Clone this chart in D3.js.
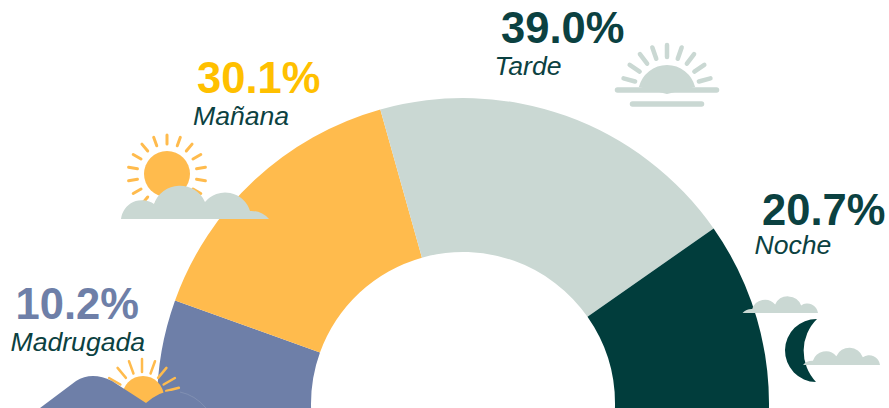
<!DOCTYPE html>
<html><head><meta charset="utf-8">
<script src="https://cdn.jsdelivr.net/npm/d3@7"></script>
<style>html,body{margin:0;padding:0;background:#fff}svg{display:block}</style>
</head><body>
<svg id="c" width="889" height="408"></svg>
<script>
const categories = ["Madrugada", "Mañana", "Tarde", "Noche"];
const shares = [10.2, 30.1, 39.0, 20.7];
const shareLabels = ["10.2%", "30.1%", "39.0%", "20.7%"];
const sliceColors = ["#6e7fa8", "#ffbb4d", "#cad8d3", "#013d3c"];
const valueColors = ["#6e7fa8", "#ffc000", "#0b4141", "#0b4141"];
const valueAnchors = [[15.5, 319], [197, 93], [501, 42.5], [762, 225]];
const labelAnchors = [[10.5, 351], [193, 125], [494.5, 74.5], [754.5, 254]];

const FONT = "'Liberation Sans', Arial, Helvetica, sans-serif";
const svg = d3.select("#c");
const deg = Math.PI / 180;
const cx = 463, cy = 404;

// Ring
const pie = d3.pie().sort(null).startAngle(-88.7 * deg).endAngle(92.5 * deg);
const arc = d3.arc().innerRadius(152).outerRadius(306)
  .startAngle(d => d.index === 0 ? -92 * deg : d.startAngle)
  .endAngle(d => d.endAngle);
svg.append("g").attr("transform", `translate(${cx},${cy})`)
  .selectAll("path").data(pie(shares)).join("path")
  .attr("d", arc).attr("fill", (d, i) => sliceColors[i]);

// Icons
function rays(x, y, r0, r1, angles, color, width) {
  svg.append("g").selectAll("line").data(angles).join("line")
    .attr("x1", a => x + r0 * Math.sin(a * deg)).attr("y1", a => y - r0 * Math.cos(a * deg))
    .attr("x2", a => x + r1 * Math.sin(a * deg)).attr("y2", a => y - r1 * Math.cos(a * deg))
    .attr("stroke", color).attr("stroke-width", width).attr("stroke-linecap", "round");
}
const cloudPath = "M0,0 A21,21 0 0 1 33,-15 A27.5,27.5 0 0 1 84,-17 A26,26 0 0 1 129,-8 A24,24 0 0 1 148,0 Z";
function cloud(transform) {
  svg.append("path").attr("d", cloudPath).attr("fill", "#cad8d3").attr("transform", transform);
}

// Madrugada: sun behind mountains
rays(142, 397, 25, 38, [-60, -40, -20, 0, 20, 40, 60, 76], "#ffbb4d", 2.5);
svg.append("circle").attr("cx", 143).attr("cy", 397).attr("r", 21).attr("fill", "#ffbb4d");
svg.append("path").attr("fill", "#6e7fa8")
  .attr("d", "M40,408 L76,381 Q92,371 112,381 L146,403 Q160,391 172,391 Q192,391 206,408 Z");
svg.append("path").attr("fill", "none").attr("stroke", "#8d9ab9").attr("stroke-width", 0.6)
  .attr("d", "M180,392 Q195,395 206,408");

// Mañana: sun and cloud
rays(167, 174, 30, 39, d3.range(-160, 181, 20), "#ffbb4d", 3);
svg.append("circle").attr("cx", 167).attr("cy", 174).attr("r", 23).attr("fill", "#ffbb4d");
cloud("translate(121,219)");

// Tarde: setting sun
rays(667, 90, 33, 45, [-75, -56, -37, -19, 0, 19, 37, 56, 75], "#cad8d3", 4.5);
svg.append("path").attr("fill", "#cad8d3").attr("d", d3.arc()
  .innerRadius(0).outerRadius(29).startAngle(-76 * deg).endAngle(76 * deg)())
  .attr("transform", "translate(667,94)");
svg.append("line").attr("x1", 617.5).attr("x2", 716.5).attr("y1", 90).attr("y2", 90)
  .attr("stroke", "#cad8d3").attr("stroke-width", 5.5).attr("stroke-linecap", "round");
svg.append("line").attr("x1", 632.5).attr("x2", 701.5).attr("y1", 104).attr("y2", 104)
  .attr("stroke", "#cad8d3").attr("stroke-width", 5.5).attr("stroke-linecap", "round");

// Noche: moon and clouds
svg.append("path").attr("fill", "#013d3c")
  .attr("d", "M817,319 A31.5,31.5 0 0 0 816,382 A45,45 0 0 1 817,319 Z");
cloud("translate(818,313) scale(-0.51,0.5)");
cloud("translate(880,365) scale(-0.52,0.52)");

// Text
svg.append("g").selectAll("text").data(shareLabels).join("text")
  .attr("x", (d, i) => valueAnchors[i][0]).attr("y", (d, i) => valueAnchors[i][1])
  .attr("font-family", FONT).attr("font-weight", 700).attr("font-size", 43.5)
  .attr("fill", (d, i) => valueColors[i]).text(d => d);
svg.append("g").selectAll("text").data(categories).join("text")
  .attr("x", (d, i) => labelAnchors[i][0]).attr("y", (d, i) => labelAnchors[i][1])
  .attr("font-family", FONT).attr("font-style", "italic").attr("font-size", 26.6)
  .attr("fill", "#0b4141").text(d => d);
</script>
</body></html>
